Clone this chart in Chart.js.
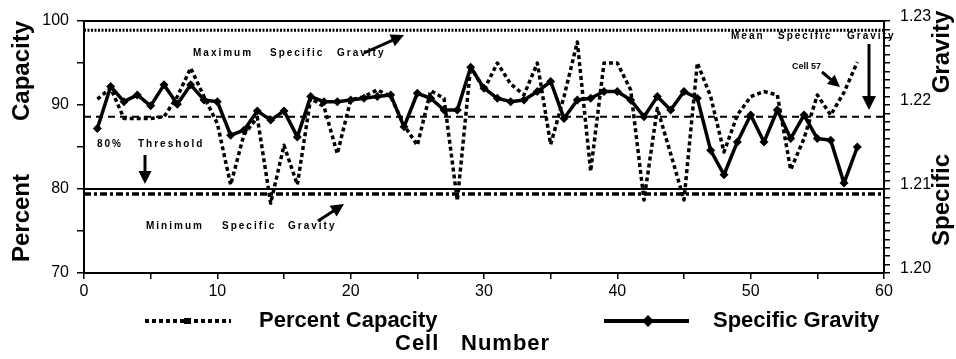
<!DOCTYPE html>
<html><head><meta charset="utf-8">
<script src="https://cdn.jsdelivr.net/npm/chart.js@4.4.1/dist/chart.umd.min.js"></script>
<style>html,body{margin:0;padding:0;background:#fff}canvas{display:block}</style>
</head><body>
<canvas id="c" width="956" height="359"></canvas>
<script>
// ---- data ----
const cellNumbers = [1,2,3,4,5,6,7,8,9,10,11,12,13,14,15,16,17,18,19,20,21,22,23,24,25,26,27,28,29,30,31,32,33,34,35,36,37,38,39,40,41,42,43,44,45,46,47,48,49,50,51,52,53,54,55,56,57,58];
const percentCapacity = [90.7,92.0,88.4,88.4,88.4,88.6,91.0,94.4,91.0,87.8,80.5,86.5,88.5,78.3,85.2,80.5,90.8,89.8,84.2,90.6,91.0,91.8,91.0,87.6,85.2,91.7,90.8,78.6,94.6,91.8,95.0,92.5,91.2,95.0,85.3,91.0,97.5,82.1,95.0,95.0,91.8,78.7,89.6,84.2,78.7,95.0,91.0,84.4,88.8,91.0,91.6,91.2,82.3,86.0,91.2,88.8,91.5,95.1];
const specificGravity = [1.2172,1.2222,1.2204,1.2212,1.2199,1.2224,1.2201,1.2224,1.2206,1.2204,1.2164,1.2170,1.2193,1.2182,1.2193,1.2162,1.2210,1.2204,1.2204,1.2206,1.2208,1.2210,1.2212,1.2174,1.2214,1.2208,1.2194,1.2194,1.2245,1.2220,1.2208,1.2204,1.2206,1.2216,1.2228,1.2184,1.2206,1.2208,1.2216,1.2216,1.2206,1.2186,1.2210,1.2194,1.2216,1.2208,1.2146,1.2117,1.2156,1.2188,1.2156,1.2194,1.2160,1.2188,1.2160,1.2158,1.2107,1.2150];
const xTickLabels = [0,10,20,30,40,50,60];
const percentTickLabels = [70,80,90,100];
const gravityTickLabels = [1.20,1.21,1.22,1.23];
const maxSpecificGravity = 1.2289;
const meanSpecificGravity = 1.2186;
const minSpecificGravity = 1.2094;
const thresholdPercent = 80;

const FONT = '"Liberation Sans", Arial, Helvetica, sans-serif';

function arrow(ctx, x1, y1, x2, y2, head, w) {
  const a = Math.atan2(y2 - y1, x2 - x1);
  const c = Math.cos(a), s = Math.sin(a);
  ctx.save();
  ctx.strokeStyle = '#000'; ctx.fillStyle = '#000'; ctx.lineWidth = w; ctx.setLineDash([]);
  ctx.beginPath(); ctx.moveTo(x1, y1); ctx.lineTo(x2 - c * head * 0.8, y2 - s * head * 0.8); ctx.stroke();
  ctx.beginPath(); ctx.moveTo(x2, y2);
  ctx.lineTo(x2 - head * c + head * 0.5 * s, y2 - head * s - head * 0.5 * c);
  ctx.lineTo(x2 - head * c - head * 0.5 * s, y2 - head * s + head * 0.5 * c);
  ctx.closePath(); ctx.fill();
  ctx.restore();
}
function words(ctx, list, y, font, spacing) {
  ctx.font = font;
  ctx.textAlign = 'left';
  if ('letterSpacing' in ctx) ctx.letterSpacing = spacing;
  list.forEach(([t, x]) => ctx.fillText(t, x, y));
  if ('letterSpacing' in ctx) ctx.letterSpacing = '0px';
}
function vword(ctx, t, x, y) {
  ctx.save(); ctx.translate(x, y); ctx.rotate(-Math.PI / 2); ctx.textAlign = 'center'; ctx.fillText(t, 0, 0); ctx.restore();
}

const decor = {
  id: 'decor',
  afterDraw(chart) {
    const ctx = chart.ctx, ca = chart.chartArea;
    ctx.save();
    // top frame line
    ctx.strokeStyle = '#000'; ctx.lineWidth = 2;
    ctx.beginPath(); ctx.moveTo(ca.left, ca.top); ctx.lineTo(ca.right, ca.top); ctx.stroke();

    ctx.fillStyle = '#000';
    ctx.textBaseline = 'middle';
    // annotations
    const af = 'bold 10px ' + FONT;
    words(ctx, [['Maximum', 193], ['Specific', 270], ['Gravity', 337]], 53, af, '2px');
    words(ctx, [['Mean', 731], ['Specific', 778], ['Gravity', 847]], 36, af, '2px');
    words(ctx, [['80%', 97], ['Threshold', 138]], 144, af, '2px');
    words(ctx, [['Minimum', 146], ['Specific', 222], ['Gravity', 288]], 226, af, '2px');
    words(ctx, [['Cell 57', 792]], 67, 'bold 9px ' + FONT, '0px');
    arrow(ctx, 364, 53, 404, 35, 13, 3);
    arrow(ctx, 145, 155, 145, 184, 13, 3);
    arrow(ctx, 318, 221, 344, 204, 13, 3);
    arrow(ctx, 869, 44, 869, 110, 14, 3);
    arrow(ctx, 822, 72, 840, 87, 12, 3);

    // axis titles
    ctx.font = 'bold 24px ' + FONT;
    vword(ctx, 'Capacity', 22, 71);
    vword(ctx, 'Percent', 22, 218);
    vword(ctx, 'Gravity', 942, 52);
    vword(ctx, 'Specific', 942, 200);
    words(ctx, [['Cell', 395], ['Number', 461]], 344, 'bold 22px ' + FONT, '1px');

    // legend
    const ly = 321;
    ctx.strokeStyle = '#000';
    ctx.lineWidth = 4; ctx.setLineDash([4, 3]);
    ctx.beginPath(); ctx.moveTo(145, ly); ctx.lineTo(231, ly); ctx.stroke();
    ctx.setLineDash([]);
    ctx.fillRect(184, ly - 3, 7, 6);
    ctx.lineWidth = 4;
    ctx.beginPath(); ctx.moveTo(604, ly); ctx.lineTo(689, ly); ctx.stroke();
    ctx.beginPath(); ctx.moveTo(648, ly - 6); ctx.lineTo(654, ly); ctx.lineTo(648, ly + 6); ctx.lineTo(642, ly); ctx.closePath(); ctx.fill();
    words(ctx, [['Percent Capacity', 259]], ly, 'bold 22px ' + FONT, '0px');
    words(ctx, [['Specific Gravity', 713]], ly, 'bold 22px ' + FONT, '0px');
    ctx.restore();
  }
};

const pts = (arr) => cellNumbers.map((c, i) => ({ x: c, y: arr[i] }));
const flat = (v) => [{ x: xTickLabels[0], y: v }, { x: xTickLabels[xTickLabels.length - 1], y: v }];

new Chart(document.getElementById('c'), {
  type: 'line',
  data: {
    datasets: [
      { label: 'Specific Gravity', data: pts(specificGravity), yAxisID: 'y1', borderColor: '#000', backgroundColor: '#000', borderWidth: 3.5, borderJoinStyle: 'round', pointStyle: 'rectRot', pointRadius: 4.5, pointBorderWidth: 0, tension: 0, order: 1 },
      { label: 'Percent Capacity', data: pts(percentCapacity), yAxisID: 'y', borderColor: '#000', borderWidth: 3.5, borderJoinStyle: 'round', borderDash: [4, 3], pointRadius: 0, tension: 0, order: 2 },
      { label: 'Maximum Specific Gravity', data: flat(maxSpecificGravity), yAxisID: 'y1', borderColor: '#000', borderWidth: 3, borderDash: [2, 1.5], pointRadius: 0, order: 3 },
      { label: 'Mean Specific Gravity', data: flat(meanSpecificGravity), yAxisID: 'y1', borderColor: '#000', borderWidth: 2, borderDash: [7, 5], pointRadius: 0, order: 3 },
      { label: '80% Threshold', data: flat(thresholdPercent), yAxisID: 'y', borderColor: '#000', borderWidth: 2, pointRadius: 0, order: 3 },
      { label: 'Minimum Specific Gravity', data: flat(minSpecificGravity), yAxisID: 'y1', borderColor: '#000', borderWidth: 3.5, borderDash: [7, 3, 3, 3], pointRadius: 0, order: 3 }
    ]
  },
  options: {
    responsive: false, animation: false, devicePixelRatio: 1,
    layout: { padding: { top: 21, left: 0, right: 0, bottom: 0 } },
    plugins: { legend: { display: false }, title: { display: false }, tooltip: { enabled: false } },
    scales: {
      x: {
        type: 'linear', min: 0, max: 60, position: 'bottom',
        ticks: { stepSize: 5, autoSkip: false, maxRotation: 0, color: '#000', padding: 3, font: { family: FONT, size: 16 },
          callback: (v) => xTickLabels.includes(v) ? String(v) : '' },
        grid: { drawOnChartArea: false, tickLength: 6, color: '#000', lineWidth: 1.5 },
        border: { display: true, color: '#000', width: 2 },
        afterFit: (s) => { s.height = 86; }
      },
      y: {
        position: 'left', min: 70, max: 100,
        ticks: { stepSize: 5, autoSkip: false, color: '#000', padding: 8, font: { family: FONT, size: 16 },
          callback: (v) => percentTickLabels.includes(v) ? String(v) : '' },
        grid: { drawOnChartArea: false, tickLength: 7, color: '#000', lineWidth: 1.5 },
        border: { display: true, color: '#000', width: 2 },
        afterFit: (s) => { s.width = 84; }
      },
      y1: {
        position: 'right', min: 1.20, max: 1.23,
        ticks: { stepSize: 0.001, autoSkip: false, color: '#000', padding: 10, labelOffset: -4, font: { family: FONT, size: 16 },
          callback: (v) => gravityTickLabels.some((t) => Math.abs(t - v) < 1e-6) ? v.toFixed(2) : '' },
        grid: { drawOnChartArea: false, tickLength: 6, color: '#000', lineWidth: 1.5 },
        border: { display: true, color: '#000', width: 2 },
        afterFit: (s) => { s.width = 72; }
      }
    }
  },
  plugins: [decor]
});
</script>
</body></html>
